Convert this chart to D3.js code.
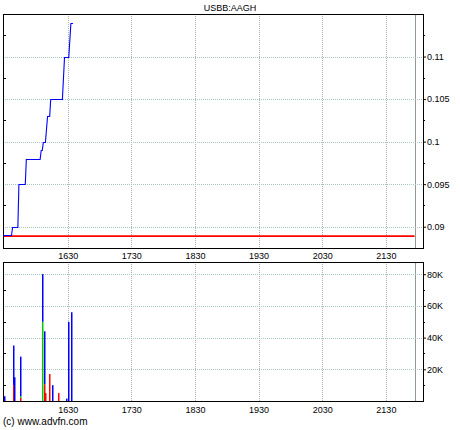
<!DOCTYPE html>
<html>
<head>
  <meta charset="utf-8">
  <script src="https://cdn.jsdelivr.net/npm/d3@7"></script>
  <style>
    body {margin:0; background:#fff;}
    text {font-family: "Liberation Sans", Arial, sans-serif; font-size: 9px; fill: #000;}
    .grid line {shape-rendering: crispEdges;}
  </style>
</head>
<body>
<script>
const title = "USBB:AAGH";
const footer = "(c) www.advfn.com";

// trades: time, price
const priceTimes = ["15:29","15:37","15:38","15:43","15:44","15:50","15:51","16:04","16:05","16:06","16:07","16:09","16:11","16:13","16:14","16:25","16:27","16:31","16:33","16:35"];
const priceValues = [0.089,0.089,0.090,0.090,0.095,0.095,0.098,0.098,0.099,0.099,0.100,0.100,0.103,0.103,0.105,0.105,0.110,0.110,0.114,0.114];
const prevClose = 0.089;

// volume bars: time, red part, green part, blue part (stacked)
const volTimes = ["15:30","15:38","15:39","15:45","16:06","16:08","16:09","16:12","16:15","16:21","16:28","16:30","16:33"];
const volRed   = [0, 10000, 0, 2000, 0, 10500, 5000, 17000, 0, 5000, 0, 0, 0];
const volGreen = [0, 0, 0, 1000, 50000, 0, 0, 0, 0, 0, 0, 0, 0];
const volBlue  = [3000, 25000, 15000, 25000, 30000, 33500, 0, 0, 10000, 0, 1500, 50000, 56000];

const timeTicks = ["16:30","17:30","18:30","19:30","20:30","21:30"];
const sessionEnd = "21:57";
const priceTicks = [0.09, 0.095, 0.1, 0.105, 0.11];
const priceTickLabels = ["0.09","0.095","0.1","0.105","0.11"];
const volTicks = [20000, 40000, 60000, 80000];
const volTickLabels = ["20K","40K","60K","80K"];

const W = 460, H = 430;
const left = 3, right = 423;
const top1 = 14, bot1 = 248, top2 = 262, bot2 = 401;

const parse = d3.timeParse("%H:%M");
const svg = d3.select("body").append("svg").attr("width", W).attr("height", H);

const x = d3.scaleTime().domain([parse("15:29"), parse("22:05")]).range([left, right]);
const yP = d3.scaleLinear().domain([0.0875, 0.115]).range([bot1, top1]);
const yV = d3.scaleLinear().domain([0, 87700]).range([bot2, top2]);

function panel(y, ticks, labels, top, bot, minorStep, labelY) {
  const g = svg.append("g");
  const grid = g.append("g").attr("class", "grid");
  // vertical grid
  grid.selectAll("line.v").data(timeTicks).join("line")
    .attr("x1", d => Math.round(x(parse(d))) + 0.5).attr("x2", d => Math.round(x(parse(d))) + 0.5)
    .attr("y1", top).attr("y2", bot)
    .attr("stroke", "#b0b0b0").attr("stroke-dasharray", "1,1");
  grid.append("line")
    .attr("x1", Math.round(x(parse(sessionEnd))) + 0.5).attr("x2", Math.round(x(parse(sessionEnd))) + 0.5)
    .attr("y1", top).attr("y2", bot)
    .attr("stroke", "#8c9a9a");
  // horizontal grid
  grid.selectAll("line.h").data(ticks).join("line")
    .attr("x1", left).attr("x2", right)
    .attr("y1", d => Math.round(y(d)) + 0.5).attr("y2", d => Math.round(y(d)) + 0.5)
    .attr("stroke", "#a8c4c4").attr("stroke-dasharray", "1,1");

  // axes
  const axR = d3.axisRight(y).tickValues(ticks).tickSize(3).tickFormat((d, i) => labels[i]);
  const ar = g.append("g").attr("transform", `translate(${right},0)`).call(axR);
  ar.select(".domain").remove();
  ar.selectAll("text").attr("x", 4);
  const minors = ticks.map(t => t - minorStep).concat([ticks[ticks.length - 1] + minorStep])
    .filter(t => y(t) > top + 2 && y(t) < bot - 2);
  g.append("g").selectAll("line").data(minors).join("line")
    .attr("x1", right).attr("x2", right + 2)
    .attr("y1", d => Math.round(y(d)) + 0.5).attr("y2", d => Math.round(y(d)) + 0.5)
    .attr("stroke", "#000").attr("shape-rendering", "crispEdges");
  g.append("g").selectAll("line").data(minors).join("line")
    .attr("x1", left).attr("x2", left + 3)
    .attr("y1", d => Math.round(y(d)) + 0.5).attr("y2", d => Math.round(y(d)) + 0.5)
    .attr("stroke", "#000").attr("shape-rendering", "crispEdges");

  const axB = d3.axisBottom(x).tickValues(timeTicks.map(parse)).tickSize(0).tickFormat(d3.timeFormat("%H%M"));
  const ab = g.append("g").attr("transform", `translate(0,${bot})`).call(axB);
  ab.select(".domain").remove();
  ab.selectAll("text").attr("y", labelY);

  g.append("rect").attr("x", left + 0.5).attr("y", top + 0.5)
    .attr("width", right - left).attr("height", bot - top)
    .attr("fill", "none").attr("stroke", "#000").attr("shape-rendering", "crispEdges");
  return g;
}

const p1 = panel(yP, priceTicks, priceTickLabels, top1, bot1, 0.0025, 5);
const p2 = panel(yV, volTicks, volTickLabels, top2, bot2, 10000, 6);

// previous close line
svg.append("line")
  .attr("x1", left + 1).attr("x2", x(parse(sessionEnd)))
  .attr("y1", yP(prevClose) + 0.8).attr("y2", yP(prevClose) + 0.8)
  .attr("stroke", "#ff0000").attr("stroke-width", 1.8);

// price line
const pts = priceTimes.map((t, i) => [parse(t), priceValues[i]]);
svg.append("path").datum(pts)
  .attr("d", d3.line().x(d => x(d[0])).y(d => Math.round(yP(d[1])) + 0.5))
  .attr("fill", "none").attr("stroke", "#0000ff").attr("stroke-width", 1.1);

// volume bars
const vols = volTimes.map((t, i) => ({t: parse(t), r: volRed[i], g: volGreen[i], b: volBlue[i]}));
const stack = d3.stack().keys(["r", "g", "b"])(vols);
const colors = {r: "#ff0000", g: "#00cc00", b: "#0000ff"};
svg.append("g").selectAll("g").data(stack).join("g")
  .attr("fill", d => colors[d.key])
  .selectAll("rect").data(d => d).join("rect")
  .attr("x", d => Math.round(x(d.data.t)))
  .attr("width", 1.5)
  .attr("y", d => yV(d[1]))
  .attr("height", d => yV(d[0]) - yV(d[1]));

svg.append("text").attr("x", 230).attr("y", 11).attr("text-anchor", "middle").text(title);
svg.append("text").attr("x", 3).attr("y", 425).style("font-size", "10px").text(footer);
</script>
</body>
</html>
